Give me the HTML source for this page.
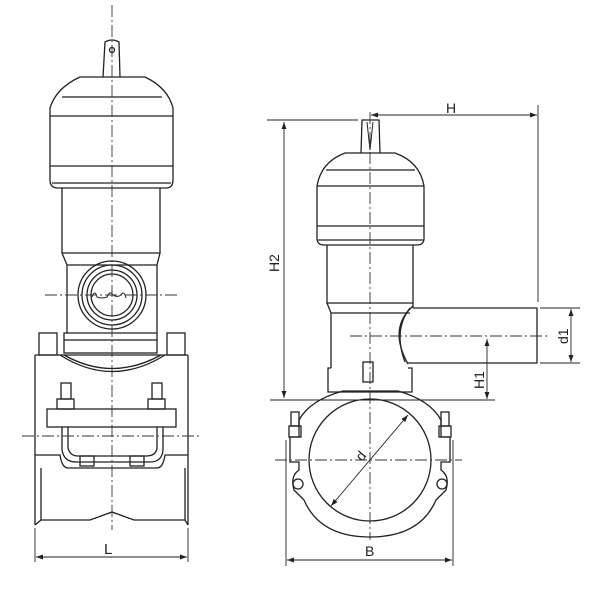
<!DOCTYPE html>
<html><head><style>body{margin:0;background:#fff}svg{display:block}text{font-family:"Liberation Sans",sans-serif;fill:#222}</style></head>
<body>
<svg width="600" height="600" viewBox="0 0 600 600" xmlns="http://www.w3.org/2000/svg">
<defs>
<marker id="a" viewBox="0 0 10 10" refX="10" refY="5" markerWidth="8" markerHeight="8" orient="auto-start-reverse"><path d="M0,1.5 L10,5 L0,8.5 z" fill="#222"/></marker>
</defs>
<g fill="none" stroke="#222" stroke-width="1.3">
<!-- LEFT VIEW -->
<path d="M103,77 L105,42 Q112,38 119,42 L120,77"/>
<circle cx="112" cy="50" r="2.5"/>
<path d="M80,77 L145,77 Q168,88 173,108 L173,180 Q173,188 166,188 L58,188 Q50,188 50,180 L50,108 Q56,88 80,77 Z"/>
<line x1="62" y1="97" x2="162" y2="97"/>
<line x1="50" y1="116" x2="173" y2="116"/>
<line x1="50" y1="166" x2="173" y2="166"/>
<line x1="52" y1="183" x2="171" y2="183"/>
<path d="M62,188 L62,253 L160,253 L160,188"/>
<path d="M62,253 L67,265 L67,333 M160,253 L157,265 L157,333"/>
<line x1="67" y1="265" x2="157" y2="265"/>
<circle cx="112" cy="295" r="34"/>
<circle cx="112" cy="295" r="30"/>
<circle cx="112" cy="295" r="25"/>
<circle cx="112" cy="295" r="21"/>
<path d="M92,297 q3,-8 5,0 q5,2 10,0 q3,-7 6,-2 q4,3 8,0 q3,-5 5,3" stroke-width="1"/>
<!-- saddle -->
<rect x="64" y="340" width="93" height="13"/>
<path d="M64,340 L64,333 L157,333 L157,340"/>
<rect x="39" y="333" width="18" height="22"/>
<rect x="167" y="333" width="18" height="22"/>
<path d="M35,355 L35,525 M188,355 L188,525"/>
<path d="M35,355 L188,355"/>
<path d="M60,355 Q112,388 165,355" />
<path d="M64,355 Q112,382 161,355" />
<rect x="47" y="409" width="129" height="18"/>
<rect x="61" y="383" width="10" height="16"/><rect x="57" y="399" width="17" height="10"/>
<rect x="152" y="383" width="10" height="16"/><rect x="148" y="399" width="17" height="10"/>
<path d="M62,427 L62,450 Q64,462 76,462 L150,462 Q162,462 163,450 L163,427"/>
<path d="M68,427 L68,448 Q70,456 78,456 L146,456 Q156,456 157,448 L157,427"/>
<rect x="80" y="456" width="14" height="10"/><rect x="130" y="456" width="14" height="10"/>
<path d="M35,455 L60,455 Q62,468 68,468 L157,468 Q163,468 165,455 L188,455"/>
<path d="M41,468 L41,520 M185,468 L185,520"/>
<path d="M41,520 L90,520 L112,512 L134,520 L185,520"/>
<path d="M35,525 L41,520 M188,525 L185,520"/>
<!-- RIGHT VIEW -->
<path d="M361,153 L362,120 L379,120 L380,153"/>
<path d="M367,122 L370,150 L373,122" stroke-width="1"/>
<path d="M345,153 L395,153 Q420,162 424,186 L424,238 Q424,245 417,245 L324,245 Q317,245 317,238 L317,186 Q321,162 345,153 Z"/>
<line x1="326" y1="170" x2="415" y2="170"/>
<line x1="317" y1="186" x2="424" y2="186"/>
<line x1="317" y1="226" x2="424" y2="226"/>
<line x1="318" y1="240" x2="423" y2="240"/>
<path d="M327,245 L327,303 L413,303 L413,245"/>
<path d="M327,303 L331,313 L331,368 M413,303 L413,308"/>
<line x1="331" y1="313" x2="410" y2="313"/>
<path d="M413,308 L537,308 L537,363 L408,363"/>
<path d="M413,306 Q388,328 408,364"/>
<path d="M410,308 Q393,330 405,362"/>
<path d="M331,368 L328,368 L328,392 L412,392 L412,368 L408,368"/>
<rect x="363" y="362" width="10" height="20"/>
<!-- saddle right -->
<path d="M343,391 L398,391 Q430,400 441,420 L441,437 L450,437 L450,462 L441,462 L441,470 Q450,476 446,490 L436,500 Q420,537 370,537 Q320,537 304,500 L294,490 Q290,476 299,470 L299,462 L290,462 L290,437 L299,437 L299,420 Q310,400 343,391 Z"/>
<circle cx="370" cy="460" r="61"/>
<rect x="291" y="412" width="8" height="14"/><rect x="289" y="426" width="12" height="11"/>
<rect x="441" y="412" width="8" height="14"/><rect x="439" y="426" width="12" height="11"/>
<circle cx="298" cy="484" r="5"/><circle cx="442" cy="484" r="5"/>
</g>
<!-- centerlines -->
<g fill="none" stroke="#333" stroke-width="0.9" stroke-dasharray="12,3,2,3">
<line x1="112" y1="5" x2="112" y2="530"/>
<line x1="45" y1="295" x2="180" y2="295"/>
<line x1="22" y1="436" x2="200" y2="436"/>
<line x1="370" y1="112" x2="370" y2="540"/>
<line x1="350" y1="336" x2="548" y2="336"/>
<line x1="275" y1="460" x2="462" y2="460"/>
</g>
<!-- dimensions -->
<g fill="none" stroke="#222" stroke-width="0.9">
<line x1="35" y1="528" x2="35" y2="562"/><line x1="188" y1="528" x2="188" y2="562"/>
<line x1="36" y1="557" x2="187" y2="557" marker-start="url(#a)" marker-end="url(#a)"/>
<line x1="538" y1="105" x2="538" y2="302"/>
<line x1="371" y1="115" x2="537" y2="115" marker-start="url(#a)" marker-end="url(#a)"/>
<line x1="267" y1="120" x2="358" y2="120"/>
<line x1="284" y1="122" x2="284" y2="398" marker-start="url(#a)" marker-end="url(#a)"/>
<line x1="270" y1="400" x2="495" y2="400"/>
<line x1="540" y1="308" x2="580" y2="308"/><line x1="540" y1="363" x2="580" y2="363"/>
<line x1="571" y1="309" x2="571" y2="362" marker-start="url(#a)" marker-end="url(#a)"/>
<line x1="487" y1="339" x2="487" y2="399" marker-start="url(#a)" marker-end="url(#a)"/>
<line x1="286" y1="440" x2="286" y2="566"/><line x1="453" y1="440" x2="453" y2="566"/>
<line x1="287" y1="560" x2="452" y2="560" marker-start="url(#a)" marker-end="url(#a)"/>
<line x1="331" y1="506" x2="408" y2="415" marker-start="url(#a)" marker-end="url(#a)"/>
</g>
<text x="104" y="554" font-size="15">L</text>
<text x="446" y="113" font-size="14">H</text>
<text x="365" y="556" font-size="14">B</text>
<text font-size="14" transform="translate(279,272) rotate(-90)">H2</text>
<text font-size="14" transform="translate(484,389) rotate(-90)">H1</text>
<text font-size="14" transform="translate(568,344) rotate(-90)">d1</text>
<text font-size="14" transform="translate(362,462) rotate(-50)">d</text>
</svg>
</body></html>
